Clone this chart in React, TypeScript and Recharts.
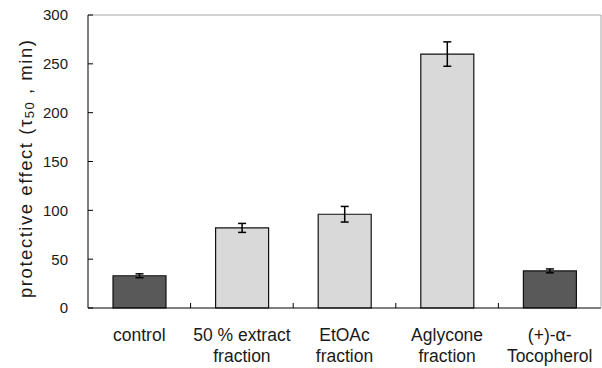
import React from "react"
import { BarChart, Bar, XAxis, YAxis, ErrorBar, Cell, ReferenceLine } from "recharts"

const categories = ["control", "50 % extract fraction", "EtOAc fraction", "Aglycone fraction", "(+)-α-Tocopherol"]
const labelLines = [["control"], ["50 % extract", "fraction"], ["EtOAc", "fraction"], ["Aglycone", "fraction"], ["(+)-α-", "Tocopherol"]]
const values = [33, 82, 96, 260, 38]
const errors = [2, 4.6, 8, 12.5, 2]
const yTicks = [0, 50, 100, 150, 200, 250, 300]

const fills = ["#595959", "#d9d9d9", "#d9d9d9", "#d9d9d9", "#595959"]
const font = "'Liberation Sans', Arial, sans-serif"

const data = categories.map((name, i) => ({ name, value: values[i], err: errors[i] }))

function XTick(props: any) {
  const { x, y, payload, index } = props
  const lines = labelLines[index] || [payload.value]
  const half = payload.offset ?? 51.3
  return (
    <g>
      {index > 0 && <line x1={x - half} x2={x - half} y1={y} y2={y - 5} stroke="#000" />}
      {lines.map((t: string, i: number) => (
        <text key={i} x={x} y={y + 33 + i * 20.5} textAnchor="middle" fontSize={17.5} fill="#1a1a1a" fontFamily={font}>
          {t}
        </text>
      ))}
    </g>
  )
}

function YTick(props: any) {
  const { x, y, payload } = props
  return (
    <g>
      <line x1={x} x2={x + 5} y1={y} y2={y} stroke="#000" />
      <text x={x - 20} y={y} dy="0.36em" textAnchor="end" fontSize={15} fill="#1a1a1a" fontFamily={font}>
        {payload.value}
      </text>
    </g>
  )
}

export default function App() {
  return (
    <div style={{ position: "absolute", left: 0, top: 0, background: "#fff" }}>
      <BarChart width={602} height={368} data={data} margin={{ top: 15, right: 0, left: 0, bottom: 0 }}>
        <XAxis
          dataKey="name"
          interval={0}
          height={60}
          tickLine={false}
          tickSize={0}
          tickMargin={0}
          axisLine={{ stroke: "#000" }}
          tick={<XTick />}
        />
        <YAxis
          width={88}
          domain={[0, 300]}
          ticks={yTicks}
          interval={0}
          tickLine={false}
          tickSize={0}
          tickMargin={0}
          axisLine={{ stroke: "#000" }}
          tick={<YTick />}
        />
        <YAxis yAxisId="right" orientation="right" width={1} domain={[0, 300]} tick={false} tickLine={false} axisLine={{ stroke: "#a6a6a6" }} />
        <ReferenceLine y={300} stroke="#a6a6a6" />
        <text
          x={25}
          y={169}
          transform="rotate(-90, 25, 169)"
          textAnchor="middle"
          dominantBaseline="central"
          fontSize={18.5}
          fill="#1a1a1a"
          fontFamily={font}
          textLength={258}
          lengthAdjust="spacing"
        >
          protective effect (τ<tspan dy={4} fontSize={13}>50</tspan>
          <tspan dy={-4}> , min)</tspan>
        </text>
        <Bar dataKey="value" barSize={53} stroke="#111" strokeWidth={1.2} isAnimationActive={false}>
          {data.map((d, i) => (
            <Cell key={d.name} fill={fills[i]} />
          ))}
          <ErrorBar dataKey="err" width={4} stroke="#000" strokeWidth={1.5} direction="y" />
        </Bar>
      </BarChart>
    </div>
  )
}
